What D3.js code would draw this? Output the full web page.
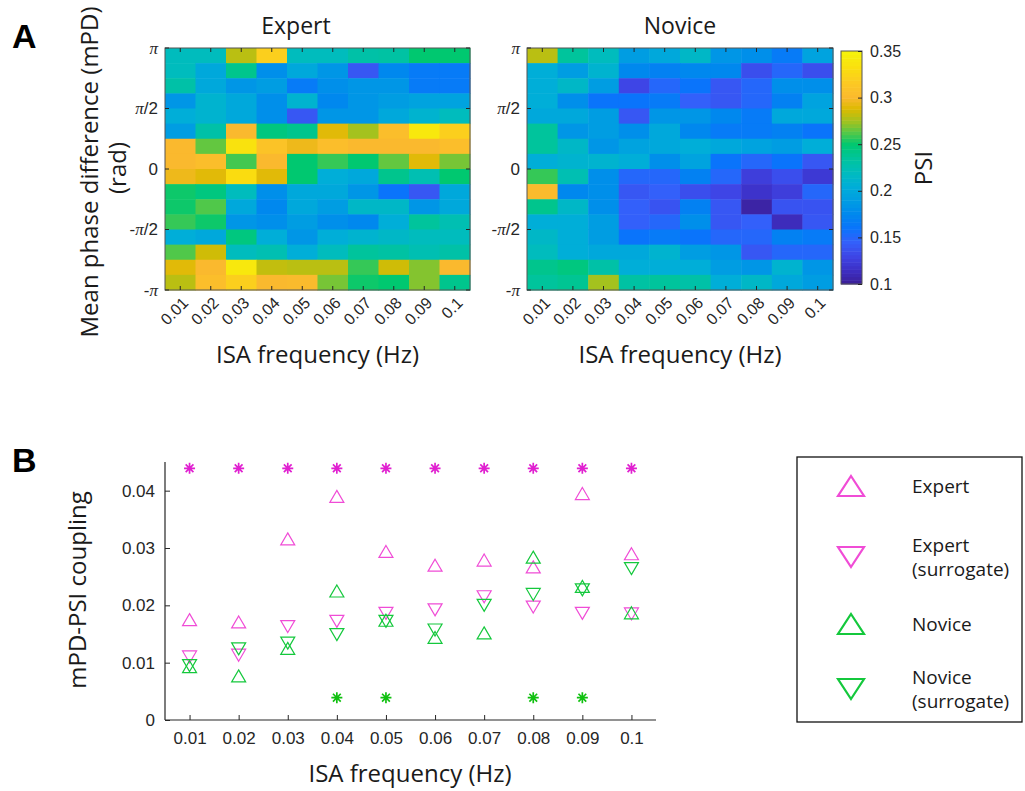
<!DOCTYPE html>
<html>
<head>
<meta charset="utf-8">
<script src="https://cdn.jsdelivr.net/npm/d3@7"></script>
<style>
  body { margin: 0; background: #fff; }
  svg { display: block; }
  .lbl { font-family: "Open Sans", "Noto Sans", sans-serif; fill: #1a1a1a; }
  .num { font-family: "Liberation Sans", Arial, sans-serif; fill: #262626; }
</style>
</head>
<body>
<svg id="fig" width="1025" height="791"></svg>
<script>
// ---------------- data ----------------
const freqLabels = ["0.01","0.02","0.03","0.04","0.05","0.06","0.07","0.08","0.09","0.1"];
const freqVals = [0.01,0.02,0.03,0.04,0.05,0.06,0.07,0.08,0.09,0.1];

// PSI per phase bin (row 0 = +pi, row 15 = -pi) x frequency
const expertPSI = [
  [0.220,0.220,0.280,0.320,0.220,0.220,0.230,0.232,0.250,0.250],
  [0.220,0.200,0.240,0.180,0.200,0.185,0.140,0.175,0.165,0.165],
  [0.230,0.200,0.185,0.190,0.165,0.180,0.185,0.185,0.165,0.165],
  [0.185,0.210,0.200,0.180,0.210,0.175,0.185,0.190,0.195,0.195],
  [0.205,0.210,0.200,0.180,0.140,0.185,0.185,0.200,0.210,0.220],
  [0.190,0.230,0.300,0.245,0.240,0.290,0.275,0.305,0.340,0.320],
  [0.300,0.265,0.335,0.310,0.295,0.305,0.300,0.300,0.300,0.305],
  [0.300,0.305,0.260,0.300,0.250,0.258,0.250,0.265,0.290,0.268],
  [0.295,0.290,0.330,0.290,0.250,0.205,0.200,0.240,0.225,0.250],
  [0.252,0.245,0.220,0.180,0.200,0.200,0.185,0.160,0.140,0.200],
  [0.252,0.262,0.200,0.175,0.200,0.190,0.215,0.215,0.185,0.200],
  [0.258,0.252,0.185,0.180,0.190,0.180,0.175,0.205,0.235,0.225],
  [0.205,0.200,0.245,0.205,0.185,0.205,0.210,0.215,0.220,0.220],
  [0.262,0.285,0.220,0.225,0.205,0.220,0.235,0.232,0.225,0.230],
  [0.290,0.300,0.340,0.282,0.280,0.280,0.258,0.285,0.270,0.300],
  [0.280,0.305,0.320,0.300,0.302,0.268,0.252,0.250,0.270,0.240]
];
const novicePSI = [
  [0.280,0.235,0.220,0.190,0.200,0.215,0.185,0.180,0.165,0.195],
  [0.205,0.190,0.210,0.175,0.170,0.175,0.175,0.135,0.150,0.135],
  [0.205,0.215,0.190,0.130,0.150,0.160,0.140,0.150,0.180,0.180],
  [0.205,0.180,0.160,0.160,0.165,0.145,0.140,0.150,0.170,0.195],
  [0.200,0.200,0.190,0.140,0.185,0.185,0.175,0.165,0.200,0.200],
  [0.235,0.185,0.190,0.180,0.200,0.175,0.165,0.165,0.170,0.160],
  [0.235,0.215,0.185,0.195,0.200,0.205,0.200,0.195,0.190,0.205],
  [0.205,0.210,0.210,0.205,0.180,0.195,0.160,0.150,0.160,0.140],
  [0.258,0.225,0.180,0.150,0.150,0.170,0.150,0.125,0.135,0.122],
  [0.302,0.175,0.180,0.140,0.145,0.135,0.130,0.118,0.125,0.150],
  [0.240,0.215,0.180,0.145,0.138,0.170,0.140,0.105,0.138,0.138],
  [0.205,0.205,0.190,0.145,0.150,0.180,0.140,0.145,0.112,0.140],
  [0.215,0.205,0.190,0.160,0.165,0.160,0.150,0.150,0.170,0.165],
  [0.220,0.205,0.200,0.200,0.210,0.190,0.185,0.140,0.150,0.150],
  [0.240,0.245,0.230,0.205,0.205,0.205,0.190,0.185,0.210,0.185],
  [0.235,0.238,0.275,0.232,0.235,0.230,0.205,0.215,0.200,0.190]
];
const psiTicks = [0.1,0.15,0.2,0.25,0.3,0.35];
const phaseTicks = [Math.PI, Math.PI/2, 0, -Math.PI/2, -Math.PI];
const phaseTickLabels = [["","π",""],["","π","/2"],["0","",""],["-","π","/2"],["-","π",""]];

// mPD-PSI coupling
const expertCoupling   = [0.0175,0.0171,0.0316,0.0390,0.0294,0.0270,0.0279,0.0267,0.0395,0.0290];
const expertSurrogate  = [0.0110,0.0113,0.0163,0.0172,0.0186,0.0192,0.0215,0.0197,0.0186,0.0185];
const noviceCoupling   = [0.0093,0.0077,0.0125,0.0225,0.0174,0.0144,0.0152,0.0284,0.0233,0.0187];
const noviceSurrogate  = [0.0095,0.0124,0.0134,0.0149,0.0172,0.0157,0.0200,0.0219,0.0227,0.0264];
const expertSigFreqs = [0.01,0.02,0.03,0.04,0.05,0.06,0.07,0.08,0.09,0.1];
const noviceSigFreqs = [0.04,0.05,0.08,0.09];
const expertSigLevel = 0.0439;
const noviceSigLevel = 0.0039;
const couplingTicks = [0,0.01,0.02,0.03,0.04];

// ---------------- colours ----------------
const cmapStops = [0.100,0.115,0.130,0.145,0.160,0.175,0.190,0.205,0.220,0.235,0.250,0.262,0.275,0.288,0.300,0.315,0.330,0.350];
const cmapCols  = ["#3b1e96","#3d2fc4","#3e45e6","#3360fa","#0a74fb","#0088ee","#009de2","#00aed8","#00bcbd",
                   "#00c49c","#00c870","#50c84a","#a4c21e","#dcba00","#fab92e","#fcc824","#fadc10","#f6f40a"];
const cScale = d3.scaleLinear().domain(cmapStops).range(cmapCols).clamp(true);

const magenta = "#f04cd6", magentaStar = "#e020d0";
const green = "#14c83c", greenStar = "#10c010";
const axisCol = "#262626";

const svg = d3.select("#fig");

// ---------------- panel A ----------------
function drawHeat(data, x0, x1, title, titleX) {
  const g = svg.append("g");
  const xScale = d3.scaleBand().domain(freqLabels).range([x0, x1]);
  const yScale = d3.scaleBand().domain(d3.range(16)).range([48, 290]);
  const yPhase = d3.scaleLinear().domain([-Math.PI, Math.PI]).range([290, 48]);

  data.forEach((row, r) => {
    g.selectAll(null).data(row).join("rect")
      .attr("x", (d, i) => xScale(freqLabels[i]))
      .attr("y", yScale(r))
      .attr("width", xScale.bandwidth() + 0.5)
      .attr("height", yScale.bandwidth() + 0.5)
      .attr("fill", d => cScale(d));
  });

  g.append("rect").attr("x", x0).attr("y", 48).attr("width", x1 - x0).attr("height", 242)
    .attr("fill", "none").attr("stroke", "#555").attr("stroke-width", 1);

  // inward ticks
  freqLabels.forEach(f => {
    const cx = xScale(f) + xScale.bandwidth() / 2;
    g.append("line").attr("x1", cx).attr("x2", cx).attr("y1", 290).attr("y2", 286).attr("stroke", axisCol);
    g.append("line").attr("x1", cx).attr("x2", cx).attr("y1", 48).attr("y2", 52).attr("stroke", axisCol);
  });
  phaseTicks.forEach(p => {
    g.append("line").attr("x1", x0).attr("x2", x0 + 4).attr("y1", yPhase(p)).attr("y2", yPhase(p)).attr("stroke", axisCol);
    g.append("line").attr("x1", x1).attr("x2", x1 - 4).attr("y1", yPhase(p)).attr("y2", yPhase(p)).attr("stroke", axisCol);
  });

  // y tick labels
  phaseTicks.forEach((p, i) => {
    const t = g.append("text").attr("class", "num")
      .attr("x", x0 - 7).attr("y", yPhase(p)).attr("dy", "0.35em")
      .attr("text-anchor", "end").style("font-size", "17px");
    const parts = phaseTickLabels[i];
    if (parts[0]) t.append("tspan").text(parts[0]);
    if (parts[1]) t.append("tspan").style("font-family", "'Liberation Serif', serif").style("font-style", "italic").text(parts[1]);
    if (parts[2]) t.append("tspan").text(parts[2]);
  });

  // x tick labels rotated
  freqLabels.forEach(f => {
    const cx = xScale(f) + xScale.bandwidth() / 2;
    g.append("text").attr("class", "num")
      .attr("transform", `translate(${cx + 5},${300}) rotate(-45)`)
      .attr("text-anchor", "end").attr("dy", "0.35em")
      .style("font-size", "16px").text(f);
  });

  g.append("text").attr("class", "lbl").attr("x", titleX).attr("y", 34)
    .attr("text-anchor", "middle").style("font-size", "23px").text(title);
  g.append("text").attr("class", "lbl").attr("x", (x0 + x1) / 2).attr("y", 363)
    .attr("text-anchor", "middle").style("font-size", "24px").text("ISA frequency (Hz)");
}

drawHeat(expertPSI, 165, 470, "Expert", 296);
drawHeat(novicePSI, 527, 833, "Novice", 680);

// colorbar
const cbScale = d3.scaleLinear().domain([0.1, 0.35]).range([284, 51]);
const cbSteps = d3.range(0.1, 0.35, 0.25 / 64);
svg.append("g").selectAll("rect").data(cbSteps).join("rect")
  .attr("x", 841).attr("width", 21)
  .attr("y", d => cbScale(d + 0.25 / 64))
  .attr("height", d => cbScale(d) - cbScale(d + 0.25 / 64) + 0.5)
  .attr("fill", d => cScale(d + 0.25 / 128));
svg.append("rect").attr("x", 841).attr("y", 51).attr("width", 21).attr("height", 233)
  .attr("fill", "none").attr("stroke", "#555");
const cbAxis = svg.append("g").attr("transform", "translate(862,0)")
  .call(d3.axisRight(cbScale).tickValues(psiTicks).tickSize(-4).tickPadding(8).tickFormat(d3.format("")));
cbAxis.select(".domain").remove();
cbAxis.selectAll("line").attr("stroke", axisCol);
cbAxis.selectAll("text").attr("class", "num").style("font-size", "16px").attr("fill", axisCol);
svg.append("text").attr("class", "lbl").attr("transform", "translate(932,168) rotate(-90)")
  .attr("text-anchor", "middle").style("font-size", "24px").text("PSI");

// y label panel A
svg.append("text").attr("class", "lbl").attr("transform", "translate(98,172) rotate(-90)")
  .attr("text-anchor", "middle").style("font-size", "24px").text("Mean phase difference (mPD)");
svg.append("text").attr("class", "lbl").attr("transform", "translate(126,168) rotate(-90)")
  .attr("text-anchor", "middle").style("font-size", "24px").text("(rad)");

svg.append("text").attr("x", 12).attr("y", 48).style("font-family", "'Liberation Sans', Arial, sans-serif")
  .style("font-weight", "bold").style("font-size", "34px").text("A");
svg.append("text").attr("x", 12).attr("y", 472).style("font-family", "'Liberation Sans', Arial, sans-serif")
  .style("font-weight", "bold").style("font-size", "34px").text("B");

// ---------------- panel B ----------------
const xS = d3.scaleLinear().domain([0.005, 0.105]).range([165, 656]);
const yS = d3.scaleLinear().domain([0, 0.045]).range([720, 462]);

const xAx = svg.append("g").attr("transform", "translate(0,720)")
  .call(d3.axisBottom(xS).tickValues(freqVals).tickSize(-5).tickPadding(12).tickFormat((d, i) => freqLabels[i]));
const yAx = svg.append("g").attr("transform", "translate(165,0)")
  .call(d3.axisLeft(yS).tickValues(couplingTicks).tickSize(-5).tickPadding(10).tickFormat(d => d === 0 ? "0" : d3.format(".2f")(d)));
[xAx, yAx].forEach(a => {
  a.select(".domain").attr("stroke", axisCol).attr("stroke-width", 1.2);
  a.selectAll("line").attr("stroke", axisCol);
  a.selectAll("text").attr("class", "num").attr("fill", axisCol).style("font-size", "17px");
});
// plain axis lines without end caps
xAx.select(".domain").attr("d", "M165,0H656");
yAx.select(".domain").attr("d", `M0,${720}V${462}`);

function triPath(w, h, up) {
  return up ? `M0,${-h / 2}L${w / 2},${h / 2}L${-w / 2},${h / 2}Z`
            : `M0,${h / 2}L${w / 2},${-h / 2}L${-w / 2},${-h / 2}Z`;
}
function starPath(s) {
  const a = s / 2, b = a * 0.707;
  return `M${-a},0H${a}M0,${-a}V${a}M${-b},${-b}L${b},${b}M${-b},${b}L${b},${-b}`;
}

const series = [
  { vals: expertCoupling,  col: magenta, up: true },
  { vals: expertSurrogate, col: magenta, up: false },
  { vals: noviceCoupling,  col: green,   up: true },
  { vals: noviceSurrogate, col: green,   up: false }
];
series.forEach(s => {
  svg.append("g").selectAll("path").data(s.vals).join("path")
    .attr("transform", (d, i) => `translate(${xS(freqVals[i])},${yS(d)})`)
    .attr("d", triPath(14, 12, s.up))
    .attr("fill", "none").attr("stroke", s.col).attr("stroke-width", 1.2);
});

svg.append("g").selectAll("path").data(expertSigFreqs).join("path")
  .attr("transform", d => `translate(${xS(d)},${yS(expertSigLevel)})`)
  .attr("d", starPath(11)).attr("stroke", magentaStar).attr("stroke-width", 1.7);
svg.append("g").selectAll("path").data(noviceSigFreqs).join("path")
  .attr("transform", d => `translate(${xS(d)},${yS(noviceSigLevel)})`)
  .attr("d", starPath(11)).attr("stroke", greenStar).attr("stroke-width", 1.7);

svg.append("text").attr("class", "lbl").attr("transform", "translate(86,590) rotate(-90)")
  .attr("text-anchor", "middle").style("font-size", "24px").text("mPD-PSI coupling");
svg.append("text").attr("class", "lbl").attr("x", 410).attr("y", 782)
  .attr("text-anchor", "middle").style("font-size", "24px").text("ISA frequency (Hz)");

// legend
const legend = svg.append("g");
legend.append("rect").attr("x", 797).attr("y", 457).attr("width", 225).attr("height", 265)
  .attr("fill", "#fff").attr("stroke", "#111").attr("stroke-width", 1.3);
const legItems = [
  { col: magenta, up: true,  y: 486, lines: ["Expert"] },
  { col: magenta, up: false, y: 557, lines: ["Expert", "(surrogate)"] },
  { col: green,   up: true,  y: 624, lines: ["Novice"] },
  { col: green,   up: false, y: 689, lines: ["Novice", "(surrogate)"] }
];
legItems.forEach(it => {
  legend.append("path").attr("transform", `translate(851,${it.y})`)
    .attr("d", triPath(26, 20, it.up)).attr("fill", "none").attr("stroke", it.col).attr("stroke-width", 2.2);
  const n = it.lines.length;
  it.lines.forEach((ln, k) => {
    legend.append("text").attr("class", "lbl").attr("x", 912)
      .attr("y", it.y + (k - (n - 1) / 2) * 24).attr("dy", "0.35em")
      .style("font-size", "19px").text(ln);
  });
});
</script>
</body>
</html>
